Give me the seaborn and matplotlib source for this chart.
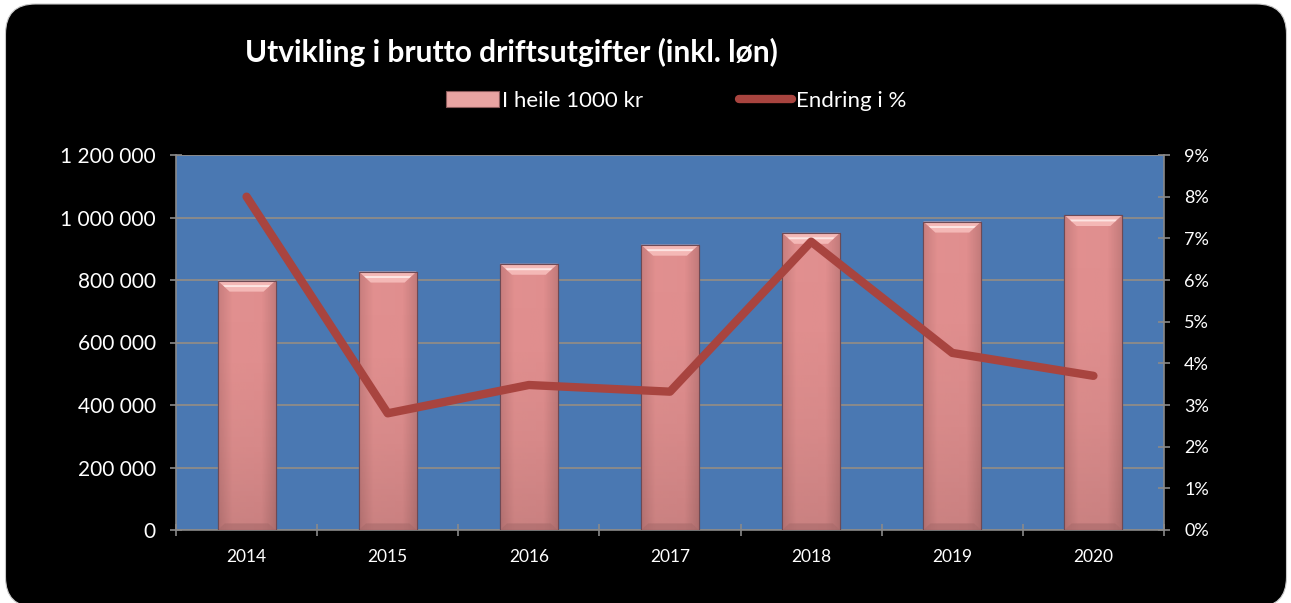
import numpy as np
import pandas as pd
import matplotlib
matplotlib.use("Agg")
import matplotlib.pyplot as plt
import seaborn as sns
from matplotlib.patches import FancyBboxPatch, Polygon, Patch
from matplotlib.lines import Line2D
from matplotlib.colors import LinearSegmentedColormap
from matplotlib.ticker import FuncFormatter, MultipleLocator, FixedLocator

years = ["2014", "2015", "2016", "2017", "2018", "2019", "2020"]
amount = [798000, 827000, 852000, 913000, 951000, 987000, 1008000]
change_pct = [8.0, 2.8, 3.48, 3.32, 6.92, 4.25, 3.70]

title = "Utvikling i brutto driftsutgifter (inkl. løn)"
label_bar = "I heile 1000 kr"
label_line = "Endring i %"

sns.set_theme(style="white")
plt.rcParams["font.family"] = ["Lato", "DejaVu Sans"]

W, H = 1291, 603
fig = plt.figure(figsize=(W / 100, H / 100), dpi=100, facecolor="white")

# black rounded card (inch units so corners are circular)
card = FancyBboxPatch((0.055, -0.04), 12.81, 6.03,
                      boxstyle="round,pad=0,rounding_size=0.30",
                      transform=fig.dpi_scale_trans, facecolor="black",
                      edgecolor="#c8c8c8", linewidth=0.8, zorder=-5)
fig.patches.append(card)

blue = "#4a78b2"
ax = fig.add_axes([176 / W, 1 - 530 / H, (1164 - 176) / W, 375 / H])
ax.set_facecolor(blue)

df = pd.DataFrame({"year": years, "amount": amount})
sns.barplot(data=df, x="year", y="amount", ax=ax, color="#de8c8c",
            width=0.41, edgecolor="#6e4a55", linewidth=0.8, saturation=1,
            zorder=3)
ax.set_xlim(-0.5, len(years) - 0.5)
ax.set_ylim(0, 1200000)

# gradient + bevel on bars
fig.canvas.draw()
cmap = LinearSegmentedColormap.from_list("barg", ["#b87676", "#d08585", "#e08e8e", "#e29090"])
side = LinearSegmentedColormap.from_list("side", ["#a86868", "#e2908f", "#e09090", "#e08e8e", "#9e6262"])
inv = ax.transData.inverted()
for p in list(ax.patches):
    x0, y0 = p.get_x(), p.get_y()
    w, h = p.get_width(), p.get_height()
    grad = np.linspace(0, 1, 256).reshape(-1, 1)
    im = ax.imshow(grad, extent=[x0, x0 + w, y0, y0 + h], origin="lower",
                   aspect="auto", cmap=cmap, zorder=3.1, alpha=1)
    im.set_clip_path(p)
    sgrad = np.linspace(0, 1, 256).reshape(1, -1)
    im2 = ax.imshow(sgrad, extent=[x0, x0 + w, y0, y0 + h], origin="lower",
                    aspect="auto", cmap=side, zorder=3.2, alpha=0.45)
    im2.set_clip_path(p)
    # bevel sizes in data units
    (px0, py0) = ax.transData.transform((x0, y0 + h))
    dx = inv.transform((px0 + 12, py0))[0] - x0
    dy = (y0 + h) - inv.transform((px0, py0 - 11))[1]
    top = y0 + h
    ax.add_patch(Polygon([[x0, top], [x0 + w, top], [x0 + w - dx, top - dy],
                          [x0 + dx, top - dy]], closed=True,
                         facecolor="#f4b8b6", edgecolor="none", zorder=3.3))
    dy2 = dy * 0.45
    ax.add_patch(Polygon([[x0 + dx * 0.45, top - dy2 * 0.9], [x0 + w - dx * 0.45, top - dy2 * 0.9],
                          [x0 + w - dx * 0.6, top - dy2 * 1.3], [x0 + dx * 0.6, top - dy2 * 1.3]],
                         closed=True, facecolor="#fde4e2", edgecolor="none", zorder=3.4))
    # bottom bevel (darker)
    dyb = dy * 0.6
    ax.add_patch(Polygon([[x0, y0], [x0 + w, y0], [x0 + w - dx * 0.6, y0 + dyb],
                          [x0 + dx * 0.6, y0 + dyb]], closed=True,
                         facecolor="#a86a6a", edgecolor="none", alpha=0.6, zorder=3.3))
    ax.add_patch(Polygon([[x0, y0], [x0 + w, y0], [x0 + w, top], [x0, top]], closed=True,
                         facecolor="none", edgecolor="#6e4a55", linewidth=0.8, zorder=3.5))

ax.set_xlim(-0.5, len(years) - 0.5)
ax.set_ylim(0, 1200000)

grid_c = "#8a8a8a"
ax.yaxis.set_major_locator(MultipleLocator(200000))
ax.grid(axis="y", color=grid_c, linewidth=1.4, zorder=1)
ax.set_axisbelow(True)
ax.yaxis.set_major_formatter(FuncFormatter(lambda v, _: f"{int(v):,}".replace(",", " ")))
ax.set_xlabel("")
ax.set_ylabel("")
ax.xaxis.set_major_locator(FixedLocator(range(len(years))))
ax.set_xticklabels(years)
ax.xaxis.set_minor_locator(FixedLocator(np.arange(-0.5, len(years), 1.0)))
ax.tick_params(axis="x", which="major", length=0, pad=14, labelsize=12.5, labelcolor="white")
ax.tick_params(axis="x", which="minor", length=9, direction="inout", color=grid_c, width=1.2)
ax.tick_params(axis="y", which="major", length=9, direction="inout", color=grid_c, width=1.2,
               labelsize=15, labelcolor="white", pad=10)
ax.tick_params(axis="y", left=True)
ax.tick_params(axis="x", bottom=True, which="both")
for s in ["left", "bottom"]:
    ax.spines[s].set_color(grid_c)
    ax.spines[s].set_linewidth(1.2)
ax.spines["top"].set_visible(False)
ax.spines["right"].set_visible(False)

ax2 = ax.twinx()
line_c = "#a8443f"
sns.lineplot(x=np.arange(len(years)), y=change_pct, ax=ax2, color=line_c,
             linewidth=6, zorder=5, solid_capstyle="round", solid_joinstyle="round")
ax2.set_ylim(0, 9)
ax2.set_xlim(-0.5, len(years) - 0.5)
ax2.yaxis.set_major_locator(MultipleLocator(1))
ax2.yaxis.set_major_formatter(FuncFormatter(lambda v, _: f"{int(round(v))}%"))
ax2.tick_params(axis="y", right=True, length=9, direction="inout", color=grid_c, width=1.2,
                labelsize=13, labelcolor="white", pad=10)
ax2.grid(False)
for s in ["left", "bottom", "top"]:
    ax2.spines[s].set_visible(False)
ax2.spines["right"].set_color(grid_c)
ax2.spines["right"].set_linewidth(1.2)
ax2.set_ylabel("")

fig.text(245 / W, 1 - 52 / H, title, color="white", fontsize=21.5, fontweight="bold",
         va="center", ha="left")

handles = [Patch(facecolor="#e9a4a2", edgecolor="#8a5a5a", linewidth=0.8),
           Line2D([0], [0], color=line_c, linewidth=6, solid_capstyle="round")]
leg = fig.legend(handles, [label_bar, label_line], loc="center",
                 bbox_to_anchor=(676 / W, 1 - 101 / H), ncol=2, frameon=False,
                 fontsize=16, labelcolor="white", handlelength=2.4,
                 handleheight=0.7, handletextpad=0.15, columnspacing=4.3)

fig.savefig("out.png", dpi=100, facecolor="white")
